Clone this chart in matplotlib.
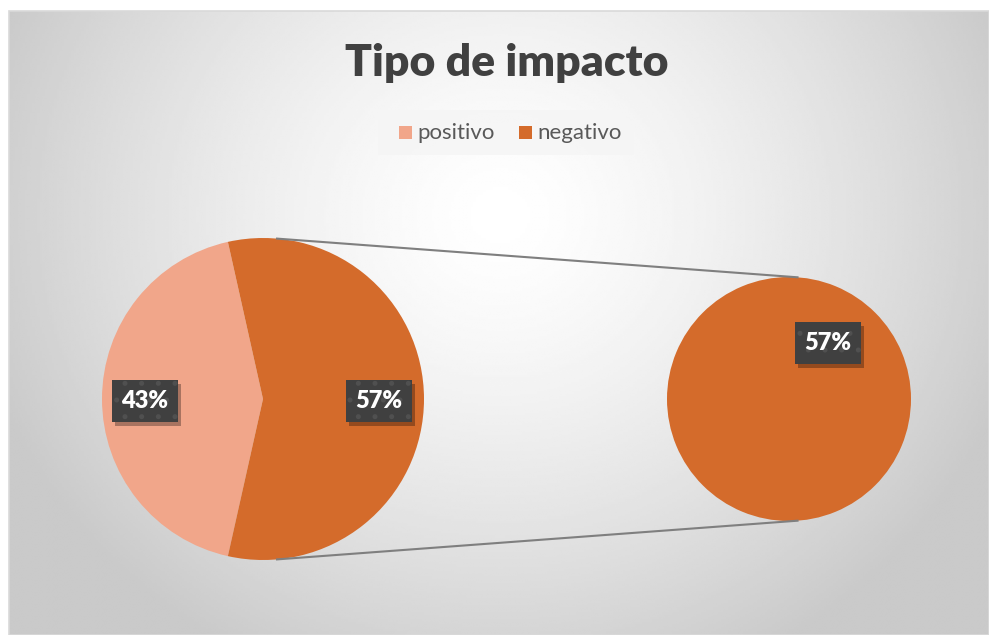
import matplotlib.pyplot as plt
from matplotlib.patches import Rectangle
import numpy as np

# data
categories = ["positivo", "negativo"]
shares = [43, 57]
colors = ["#F1A68A", "#D46B2B"]
title = "Tipo de impacto"

plt.rcParams["hatch.color"] = "#505050"
plt.rcParams["hatch.linewidth"] = 1.2

W, H = 989, 635
fig = plt.figure(figsize=(W / 100, H / 100), dpi=100)
ax = fig.add_axes([0, 0, 1, 1])

# radial gradient background of the chart area
x0, y0, x1, y1 = 9, 0, W, H - 11
gx, gy = np.meshgrid(np.linspace(x0, x1, 400), np.linspace(y0, y1, 260))
d = np.sqrt(((gx - 500) / 560) ** 2 + ((gy - 420) / 520) ** 2)
v = np.clip(1.0 - 0.22 * d ** 1.4, 0.79, 1.0)
ax.imshow(v, extent=(x0, x1, y0, y1), origin="lower", cmap="gray",
          vmin=0, vmax=1, zorder=0, interpolation="bilinear")
ax.add_patch(Rectangle((x0, y0), x1 - x0, y1 - y0, fill=False,
                       ec="#D9D9D9", lw=1.2, zorder=1))

font = "Lato"

# pies
lc, lr = (263, H - 399), 161
rc, rr = (789, H - 399), 122
start = 180 - 360 * shares[0] / 100 / 2
ax.pie(shares, colors=colors, startangle=start, center=lc, radius=lr,
       counterclock=True, frame=True, wedgeprops=dict(lw=0))
ax.pie([shares[1]], colors=[colors[1]], center=rc, radius=rr,
       frame=True, wedgeprops=dict(lw=0))
ax.set_xlim(0, W)
ax.set_ylim(0, H)
ax.set_aspect("equal")
ax.axis("off")

# connector lines
for a_l, a_r in [(85, 86), (-85, -86)]:
    p = (lc[0] + lr * np.cos(np.radians(a_l)), lc[1] + lr * np.sin(np.radians(a_l)))
    q = (rc[0] + rr * np.cos(np.radians(a_r)), rc[1] + rr * np.sin(np.radians(a_r)))
    ax.plot([p[0], q[0]], [p[1], q[1]], color="#7F7F7F", lw=1.5, zorder=1)

labels = []


def label(x, y, s):
    t = ax.text(x, y, s, ha="center", va="center", color="white",
                fontsize=17, fontweight="heavy", family=font, zorder=5,
                bbox=dict(boxstyle="square,pad=0.42", fc="#404040",
                          ec="#505050", hatch=".", lw=0))
    labels.append(t)


label(145, H - 401, f"{shares[0]}%")
label(379, H - 401, f"{shares[1]}%")
label(828, H - 343, f"{shares[1]}%")

ax.text(507, H - 63, title, ha="center", va="center", fontsize=32,
        fontweight="heavy", color="#404040", family=font)

# legend
ax.add_patch(Rectangle((378, H - 155), 256, 45, fc="#F5F5F5", ec="none",
                       alpha=0.8, zorder=2))
ax.add_patch(Rectangle((399, H - 139), 13, 13, fc=colors[0], ec="none", zorder=3))
ax.text(417, H - 133, categories[0], va="center", fontsize=16,
        color="#595959", family=font, zorder=3)
ax.add_patch(Rectangle((519, H - 139), 13, 13, fc=colors[1], ec="none", zorder=3))
ax.text(537, H - 133, categories[1], va="center", fontsize=16,
        color="#595959", family=font, zorder=3)

# drop shadows behind the value boxes
fig.canvas.draw()
inv = ax.transData.inverted()
for t in labels:
    bb = t.get_bbox_patch().get_window_extent().transformed(inv)
    ax.add_patch(Rectangle((bb.x0 + 3, bb.y0 - 4), bb.width, bb.height,
                           fc="black", ec="none", alpha=0.3, zorder=4))

fig.savefig("out.png", dpi=100, facecolor="white")
